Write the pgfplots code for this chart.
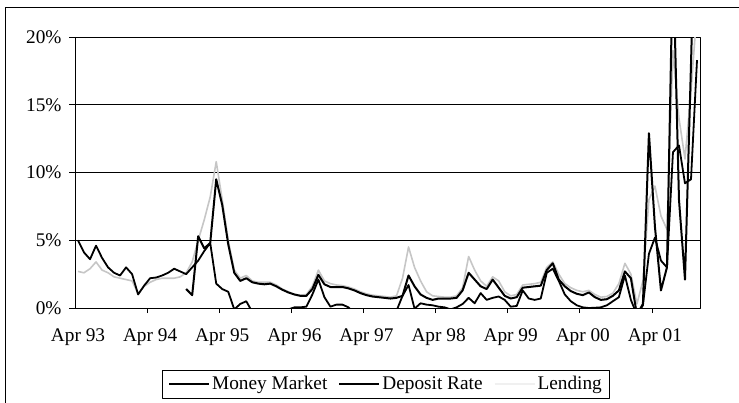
\documentclass[border=0pt]{standalone}
\usepackage{pgfplots}
\pgfplotsset{compat=1.18}
\usepackage{pgfplotstable}
\usepackage{fontspec}
\setmainfont{Liberation Serif}

\pgfplotstableread{
i v
0 5.0
1 4.1
2 3.6
3 4.6
4 3.7
5 3.0
6 2.6
7 2.4
8 3.0
9 2.5
10 1.0
11 1.65
12 2.2
13 2.25
14 2.4
15 2.6
16 2.9
17 2.7
18 2.5
19 3.0
20 3.5
21 4.2
22 4.8
23 1.8
24 1.4
25 1.2
26 -0.1
27 0.3
28 0.5
29 -0.3
30 -1.0
31 -1.2
32 -1.0
33 -0.8
34 -0.5
35 -0.1
36 0.05
37 0.05
38 0.1
39 1.0
40 2.1
41 0.8
42 0.1
43 0.25
44 0.25
45 0.05
46 -0.4
47 -0.8
48 -1.0
49 -1.0
50 -0.9
51 -0.7
52 -0.5
53 -0.2
54 0.9
55 1.7
56 -0.05
57 0.35
58 0.25
59 0.2
60 0.1
61 0.05
62 -0.1
63 0.05
64 0.3
65 0.75
66 0.35
67 1.1
68 0.6
69 0.75
70 0.85
71 0.6
72 0.1
73 0.15
74 1.3
75 0.7
76 0.6
77 0.7
78 2.6
79 2.9
80 2.0
81 1.0
82 0.5
83 0.2
84 0.05
85 0.0
86 0.02
87 0.05
88 0.2
89 0.5
90 0.8
91 2.4
92 0.6
93 -0.5
94 0.2
95 4.0
96 5.2
97 3.5
98 3.0
99 11.5
100 12.0
101 9.2
102 9.5
103 18.3
}\deposit

\pgfplotstableread{
i v
18 1.4
19 0.95
20 5.3
21 4.4
22 4.8
23 9.5
24 7.6
25 4.7
26 2.6
27 2.0
28 2.2
29 1.9
30 1.8
31 1.75
32 1.8
33 1.6
34 1.35
35 1.15
36 1.0
37 0.9
38 0.9
39 1.4
40 2.45
41 1.75
42 1.55
43 1.55
44 1.55
45 1.45
46 1.3
47 1.1
48 0.95
49 0.85
50 0.8
51 0.75
52 0.7
53 0.75
54 0.9
55 2.4
56 1.6
57 1.0
58 0.75
59 0.6
60 0.7
61 0.7
62 0.7
63 0.75
64 1.3
65 2.6
66 2.1
67 1.6
68 1.4
69 2.1
70 1.5
71 0.9
72 0.7
73 0.8
74 1.5
75 1.55
76 1.6
77 1.65
78 2.8
79 3.3
80 2.1
81 1.6
82 1.25
83 1.05
84 0.95
85 1.15
86 0.8
87 0.6
88 0.65
89 0.9
90 1.3
91 2.7
92 2.2
93 -0.5
94 0.3
95 12.9
96 6.0
97 1.3
98 3.0
99 26
100 8.0
101 2.1
102 18
103 35
}\money

\pgfplotstableread{
i v
0 2.7
1 2.6
2 2.9
3 3.4
4 2.8
5 2.6
6 2.3
7 2.2
8 2.1
9 2.0
10 1.05
11 1.6
12 1.9
13 2.1
14 2.2
15 2.2
16 2.2
17 2.3
18 2.6
19 3.4
20 5.0
21 6.5
22 8.2
23 10.8
24 8.0
25 5.0
26 2.8
27 2.2
28 2.4
29 2.0
30 1.9
31 1.9
32 1.9
33 1.7
34 1.4
35 1.2
36 1.0
37 0.95
38 1.0
39 1.6
40 2.8
41 2.0
42 1.8
43 1.7
44 1.65
45 1.55
46 1.4
47 1.2
48 1.05
49 0.95
50 0.9
51 0.85
52 0.8
53 0.9
54 2.2
55 4.5
56 3.0
57 2.0
58 1.2
59 0.9
60 0.85
61 0.8
62 0.8
63 0.9
64 1.5
65 3.8
66 2.8
67 2.0
68 1.6
69 2.3
70 2.0
71 1.2
72 0.9
73 1.0
74 1.7
75 1.75
76 1.8
77 1.9
78 3.0
79 3.4
80 2.5
81 1.8
82 1.5
83 1.3
84 1.2
85 1.3
86 1.0
87 0.8
88 0.85
89 1.1
90 1.8
91 3.3
92 2.5
93 0.3
94 2.0
95 8.0
96 9.0
97 6.8
98 5.8
99 19
100 14
101 11
102 16
103 22
}\lending

\begin{document}
\begin{tikzpicture}[x=1bp,y=1bp]
\begin{axis}[
  at={(75bp,-308bp)}, anchor=south west,
  scale only axis, width=625bp, height=271bp,
  xmin=-0.5, xmax=103.5, ymin=0, ymax=20,
  axis line style={line width=0.8bp},
  xtick={0,12,24,36,48,60,72,84,96},
  xticklabels={Apr 93,Apr 94,Apr 95,Apr 96,Apr 97,Apr 98,Apr 99,Apr 00,Apr 01},
  major x tick style={draw=none},
  minor xtick={11.5,23.5,35.5,47.5,59.5,71.5,83.5,95.5},
  minor tick length=5bp,
  major tick length=6bp,
  tick align=outside,
  tick style={black, line width=0.8bp},
  xtick pos=bottom, ytick pos=left,
  ytick={0,5,10,15,20},
  yticklabels={0\%,5\%,10\%,15\%,20\%},
  ymajorgrids, grid style={black, line width=0.7bp},
  tick label style={font=\fontsize{19.3bp}{22bp}\selectfont},
  xticklabel style={yshift=-11bp},
  yticklabel style={xshift=-4bp},
  legend style={at={(0.4976,-0.2805)}, anchor=center, draw=black, line width=0.8bp,
    font=\fontsize{19.3bp}{22bp}\selectfont, inner xsep=6bp, inner ysep=4.5bp,
    /tikz/every even column/.append style={column sep=9bp}},
  legend columns=3,
  legend image code/.code={\draw[#1, line width=2bp] (0bp,0bp) -- (40bp,0bp);},
  line join=round,
]
\addplot[gray!45, line width=1.6bp, forget plot] table[x=i,y=v] {\lending};
\addplot[black, line width=2bp] table[x=i,y=v] {\money};
\addlegendentry{Money Market}
\addplot[black, line width=1.8bp] table[x=i,y=v] {\deposit};
\addlegendentry{Deposit Rate}
\addlegendimage{gray!12}
\addlegendentry{Lending}
\end{axis}
\draw[line width=0.9bp] (5,-7) rectangle (770,-430);
\pgfresetboundingbox
\useasboundingbox (0,0) rectangle (739,-402);
\end{tikzpicture}
\end{document}
